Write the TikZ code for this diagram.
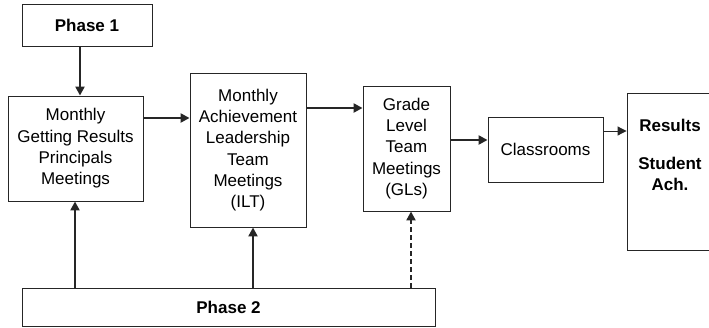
\documentclass[tikz,border=0pt]{standalone}
\usepackage{fontspec}
\setmainfont{Liberation Sans}
\usetikzlibrary{arrows.meta}
\begin{document}
\begin{tikzpicture}[x=1pt,y=-1pt,
  box/.style={draw=black!85, line width=0.9pt, rectangle, inner sep=0pt, align=center,
    font=\fontsize{17}{21.3}\selectfont},
  bbox/.style={box, font=\fontsize{17}{21.3}\selectfont\bfseries},
  arr/.style={line width=2.3pt, black!85, -{Triangle[length=9pt,width=9pt]}},
  thinarr/.style={line width=1pt, black!85, -{Triangle[length=9pt,width=9pt]}},
  dasharr/.style={arr, dash pattern=on 5pt off 3pt}]
\clip (0,0) rectangle (709,327);
\node[bbox, minimum width=130pt, minimum height=42pt] (p1) at (87,25) {Phase 1};
\node[box, minimum width=135pt, minimum height=105pt] (a) at (75.5,148.5)
  {Monthly\\Getting Results\\Principals\\Meetings};
\node[box, minimum width=116pt, minimum height=154pt] (b) at (248,150)
  {Monthly\\Achievement\\Leadership\\Team\\Meetings\\(ILT)};
\node[box, minimum width=87pt, minimum height=125pt] (c) at (406.5,148.5)
  {Grade\\Level\\Team\\Meetings\\(GLs)};
\node[box, minimum width=115pt, minimum height=65pt] (cls) at (545.5,149.5) {Classrooms};
\node[box, minimum width=86pt, minimum height=157pt] (res) at (670,171.5) {};
\node[font=\fontsize{17}{21.3}\selectfont\bfseries, align=center, inner sep=0pt] (restext) at (670,155)
  {Results\\[17pt]Student\\Ach.};
\node[bbox, minimum width=413pt, minimum height=38pt] (p2) at (228.5,307) {Phase 2};
% connectors
\draw[arr] (p1.south -| 80,0) -- (a.north -| 80,0);
\draw[arr] (a.east |- 0,118) -- (b.west |- 0,118);
\draw[arr] (b.east |- 0,108) -- (c.west |- 0,108);
\draw[arr] (c.east |- 0,140) -- (cls.west |- 0,140);
\draw[thinarr] (cls.east |- 0,131) -- (res.west |- 0,131);
\draw[arr] (p2.north -| 75,0) -- (a.south -| 75,0);
\draw[arr] (p2.north -| 253,0) -- (b.south -| 253,0);
\draw[dasharr] (p2.north -| 411,0) -- (c.south -| 411,0);
\end{tikzpicture}
\end{document}
